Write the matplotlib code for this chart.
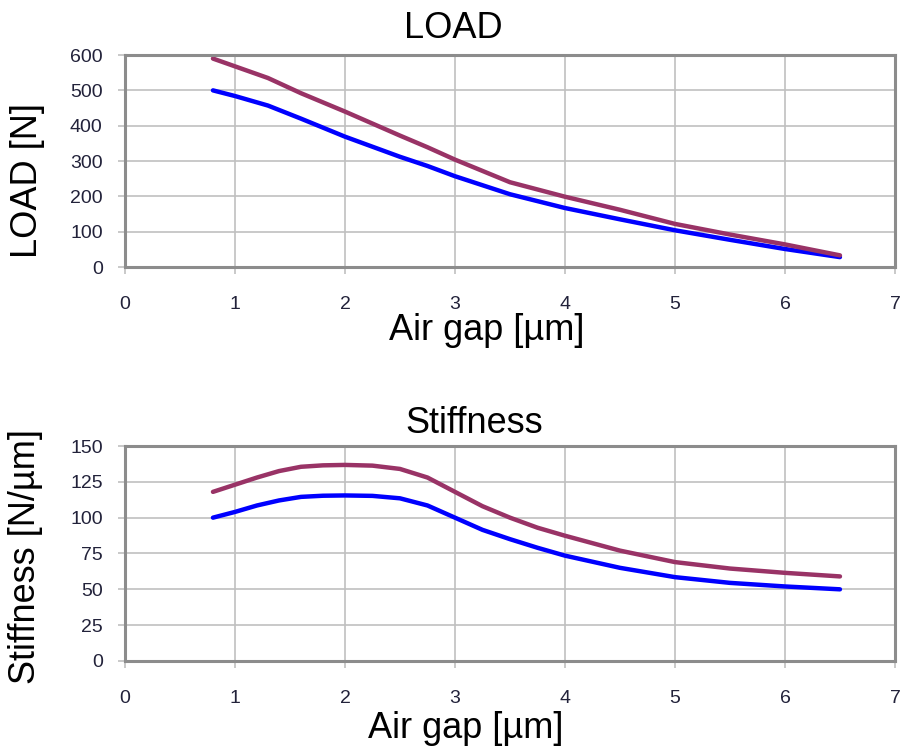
import matplotlib
matplotlib.use("Agg")
import matplotlib.pyplot as plt

# air gap [um]
gap_load = [0.8, 1.0, 1.3, 1.6, 2.0, 2.5, 2.75, 3.0, 3.5, 4.0, 4.5, 5.0, 5.5, 6.0, 6.5]

# LOAD [N]
load_blue   = [500, 484, 457, 420, 369, 312, 286, 257, 206, 167, 135, 104, 77, 51, 28]
load_purple = [590, 568, 535, 492, 440, 372, 339, 304, 240, 199, 162, 122, 92, 64, 33]

# Stiffness [N/um]
gap_stiff = [0.8, 1.0, 1.2, 1.4, 1.6, 1.8, 2.0, 2.25, 2.5, 2.75, 3.0, 3.25, 3.5,
             3.75, 4.0, 4.5, 5.0, 5.5, 6.0, 6.5]
stiff_blue   = [100, 104, 108.5, 112, 114.5, 115.3, 115.5, 115.2, 113.5, 108.5, 100,
                91.5, 85, 79, 73.5, 65, 58.5, 54.5, 52, 50]
stiff_purple = [118, 123, 128, 132.5, 135.5, 136.5, 136.8, 136.3, 134, 128, 118,
                108, 100, 93, 87.4, 77, 69, 64.5, 61.5, 59]

x_ticks = [0, 1, 2, 3, 4, 5, 6, 7]
load_ticks = [0, 100, 200, 300, 400, 500, 600]
stiff_ticks = [0, 25, 50, 75, 100, 125, 150]

BLUE = "#0000ff"
PURPLE = "#993366"
plt.rcParams["font.family"] = ["Liberation Sans", "DejaVu Sans"]

fig = plt.figure(figsize=(9.01, 7.53), dpi=100)
ax1 = fig.add_axes([0.1387, 0.6454, 0.8546, 0.2815])
ax2 = fig.add_axes([0.1387, 0.1222, 0.8546, 0.2855])


def style(ax, yticks):
    ax.set_xlim(0, 7)
    ax.set_ylim(yticks[0], yticks[-1])
    ax.set_xticks(x_ticks)
    ax.set_yticks(yticks)
    ax.grid(True, color="#c0c0c0", linewidth=1.2)
    ax.set_axisbelow(True)
    for s in ax.spines.values():
        s.set_color("#8c8c8c")
        s.set_linewidth(2.2)
    ax.tick_params(axis="both", direction="out", length=5, width=1.2,
                   color="#c0c0c0", labelsize=14, labelcolor="#22223a")
    ax.tick_params(axis="x", pad=16)
    ax.tick_params(axis="y", pad=11)


ax1.plot(gap_load, load_blue, color=BLUE, lw=3.2, solid_capstyle="round")
ax1.plot(gap_load, load_purple, color=PURPLE, lw=3.2, solid_capstyle="round")
style(ax1, load_ticks)
ax1.text(0.426, 1.08, "LOAD", transform=ax1.transAxes, ha="center",
         va="baseline", fontsize=26)
ax1.text(0.47, -0.344, "Air gap [µm]", transform=ax1.transAxes, ha="center",
         va="baseline", fontsize=26)
ax1.text(-0.126, 0.406, "LOAD [N]", transform=ax1.transAxes, ha="center",
         va="center", rotation=90, fontsize=26)

ax2.plot(gap_stiff, stiff_blue, color=BLUE, lw=3.2, solid_capstyle="round")
ax2.plot(gap_stiff, stiff_purple, color=PURPLE, lw=3.2, solid_capstyle="round")
style(ax2, stiff_ticks)
ax2.text(0.453, 1.06, "Stiffness", transform=ax2.transAxes, ha="center",
         va="baseline", fontsize=26)
ax2.text(0.442, -0.358, "Air gap [µm]", transform=ax2.transAxes, ha="center",
         va="baseline", fontsize=26)
ax2.text(-0.129, 0.484, "Stiffness [N/µm]", transform=ax2.transAxes, ha="center",
         va="center", rotation=90, fontsize=26)

fig.savefig("out.png", dpi=100, facecolor="white")
